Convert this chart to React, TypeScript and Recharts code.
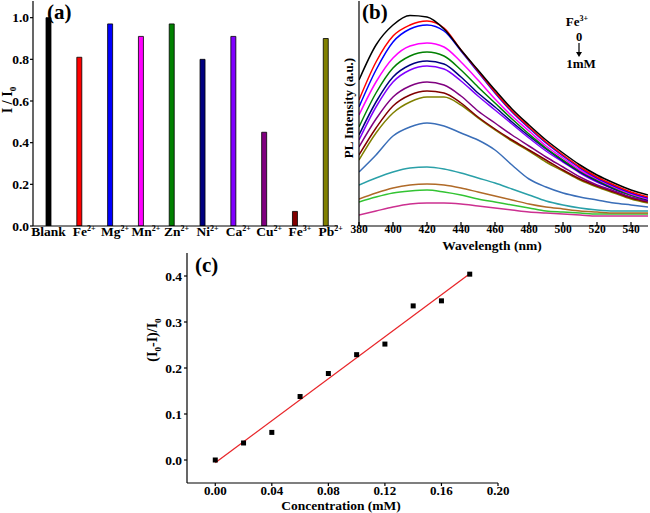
import React from "react";
import { BarChart, Bar, Cell, XAxis, YAxis, LineChart, Line, ComposedChart, Scatter } from "recharts";

const SERIF = "Liberation Serif";

// (a) quenching ratio per ion
const ionLabels = ["Blank", "Fe2+", "Mg2+", "Mn2+", "Zn2+", "Ni2+", "Ca2+", "Cu2+", "Fe3+", "Pb2+"];
const ratios = [1.0, 0.81, 0.97, 0.91, 0.97, 0.8, 0.91, 0.45, 0.07, 0.9];
const barColors = ["#000000", "#ff0000", "#0000ff", "#ff00ff", "#008000", "#000080", "#8000ff", "#800080", "#800000", "#808000"];
const ratioTicks = [0, 0.2, 0.4, 0.6, 0.8, 1.0];

// (b) PL spectra, Fe3+ from 0 to 1 mM (a.u.)
const wavelengths = [380, 390, 400, 410, 420, 430, 440, 450, 460, 470, 480, 490, 500, 510, 520, 530, 540, 550];
const wlTicks = [380, 400, 420, 440, 460, 480, 500, 520, 540];
const spectra = [
  [143, 178, 198, 207.5, 206, 194, 173, 153, 133, 114, 98, 83, 70, 58, 48, 40, 33, 28],
  [123, 161, 187, 198, 202, 195, 173, 152, 131, 112, 96, 81, 68, 56, 46, 38, 31, 26],
  [116, 153, 181, 194, 198, 192, 172, 151, 130, 111, 95, 80, 67, 55, 45, 37, 30, 25],
  [108, 141, 165, 177, 180, 176, 161, 143, 124, 107, 92, 77, 65, 53, 44, 36, 29, 24],
  [96, 130, 155, 167, 171, 167, 153, 136, 120, 104, 89, 75, 63, 52, 43, 35, 28, 24],
  [88, 121, 146, 158, 162, 159, 146, 130, 116, 101, 87, 74, 62, 51, 42, 34, 28, 23],
  [83, 116, 141, 153, 157, 154, 142, 127, 113, 99, 85, 72, 61, 50, 41, 34, 28, 23],
  [76, 104, 126, 137, 141, 138, 127, 112, 100, 88, 77, 66, 56, 46, 38, 32, 26, 22],
  [68, 95, 117, 128, 132, 130, 120, 106, 94, 83, 73, 63, 53, 44, 37, 31, 25, 21],
  [63, 90, 110, 121, 126, 126, 118, 105, 93, 82, 72, 61, 52, 43, 36, 30, 24, 20],
  [51, 68, 87, 96, 100, 97, 90, 83, 73, 58, 44, 36, 30, 26, 23, 20, 18, 16],
  [38, 45, 51, 55, 56, 54, 50, 45, 40, 34, 28, 22, 18, 15, 13, 12, 12, 12],
  [24, 30, 35, 38, 39, 38, 35, 31, 27, 23, 19, 16, 14, 12, 11, 10, 10, 10],
  [21, 26, 30, 32, 33, 31, 28, 24, 21, 18, 15, 12, 11, 10, 9, 9, 9, 9],
  [8, 12, 16, 19, 20, 20, 19, 17, 15, 13, 11, 10, 9, 8, 7, 7, 7, 7],
];
const spectraColors = ["#000000", "#ff0000", "#0000ff", "#ff00ff", "#008000", "#000080", "#8000ff", "#800080", "#800000", "#808000", "#3a6eb8", "#2aa0a8", "#b06a28", "#33c433", "#cc3090"];

// (c) Stern-Volmer style plot
const concentrations = [0, 0.02, 0.04, 0.06, 0.08, 0.1, 0.12, 0.14, 0.16, 0.18];
const quench = [0, 0.037, 0.06, 0.138, 0.188, 0.229, 0.252, 0.335, 0.346, 0.404];
const fitX = [0, 0.18];
const fitY = [-0.006, 0.405];
const concTicks = [0, 0.04, 0.08, 0.12, 0.16, 0.2];
const quenchTicks = [0, 0.1, 0.2, 0.3, 0.4];

const barData = ionLabels.map((ion, i) => ({ i, ion, ratio: ratios[i] }));
const specData = wavelengths.map((w, j) => {
  const row: any = { w };
  spectra.forEach((s, k) => (row["s" + k] = s[j]));
  return row;
});
const pts = concentrations.map((x, i) => ({ x, y: quench[i] }));
const fit = fitX.map((x, i) => ({ x, y: fitY[i] }));

const tickStyle = (size: number) => ({ fontSize: size, fontFamily: SERIF, fontWeight: "bold", fill: "#000" });
const frame = { stroke: "#8a8a8a", strokeWidth: 1 };
const axis = { stroke: "#000", strokeWidth: 1.2 };

function IonTick(props: any) {
  const { x, y, payload } = props;
  const label = ionLabels[payload.value] ?? "";
  const m = label.match(/^([A-Za-z]+)(\d\+)?$/) || [label, label, ""];
  return (
    <text x={x + (m[2] ? 5 : 0)} y={y + 10} textAnchor="middle" fontFamily={SERIF} fontWeight="bold" fontSize={13.5} fill="#000">
      <tspan>{m[1]}</tspan>
      {m[2] ? <tspan dy={-5} fontSize={8}>{m[2]}</tspan> : null}
    </text>
  );
}

function Square(p: any) {
  return <rect x={p.cx - 2.5} y={p.cy - 2.5} width={5} height={5} fill="#000" />;
}

export default function App() {
  return (
    <div style={{ position: "absolute", left: 0, top: 0, width: 650, height: 513, background: "#fff", overflow: "hidden", fontFamily: SERIF }}>
      <div style={{ position: "absolute", left: 0, top: 0 }}>
        <BarChart width={346} height={250} data={barData} margin={{ top: 1, right: 8, bottom: 0, left: 0 }}>
          <XAxis dataKey="i" type="number" domain={[-0.5, 9.4]} ticks={[0, 1, 2, 3, 4, 5, 6, 7, 8, 9]} height={24}
            tick={<IonTick />} tickLine={false} tickSize={0} tickMargin={0} axisLine={axis} interval={0} />
          <XAxis xAxisId="top" dataKey="i" type="number" domain={[-0.5, 9.4]} orientation="top" height={0} tick={false} tickLine={false} axisLine={frame} />
          <YAxis domain={[0, 1.08]} ticks={ratioTicks} width={33} tickFormatter={(v: number) => v.toFixed(1)}
            tick={tickStyle(13.5)} tickSize={3} tickMargin={1} tickLine={axis} axisLine={axis} allowDataOverflow />
          <YAxis yAxisId="r" orientation="right" domain={[0, 1]} width={0} tick={false} tickLine={false} axisLine={frame} />
          <Bar dataKey="ratio" barSize={5} stroke="#000" strokeWidth={0.8} isAnimationActive={false}>
            {barData.map((d, i) => (
              <Cell key={i} fill={barColors[i]} />
            ))}
          </Bar>
        </BarChart>
      </div>

      <div style={{ position: "absolute", left: 330, top: 0 }}>
        <LineChart width={320} height={250} data={specData} margin={{ top: 1, right: 2, bottom: 0, left: 0 }}>
          <XAxis dataKey="w" type="number" domain={[380, 550]} ticks={wlTicks} height={24} tick={tickStyle(11.5)}
            tickSize={-4} tickMargin={3} tickLine={axis} axisLine={axis} allowDataOverflow />
          <XAxis xAxisId="top" dataKey="w" type="number" domain={[380, 550]} orientation="top" height={0} tick={false} tickLine={false} axisLine={frame} />
          <YAxis domain={[-3, 222]} width={29} tick={false} tickLine={false} axisLine={axis} allowDataOverflow />
          <YAxis yAxisId="r" orientation="right" domain={[0, 1]} width={0} tick={false} tickLine={false} axisLine={frame} />
          {spectra.map((_, k) => spectra.length - 1 - k).map((k) => (
            <Line key={k} type="monotone" dataKey={"s" + k} stroke={spectraColors[k]} strokeWidth={1.5} dot={false} isAnimationActive={false} />
          ))}
        </LineChart>
      </div>

      <div style={{ position: "absolute", left: 130, top: 250 }}>
        <ComposedChart width={380} height={263} margin={{ top: 3, right: 12, bottom: 0, left: 0 }}>
          <XAxis dataKey="x" type="number" domain={[-0.02, 0.2]} ticks={concTicks} height={30} tickFormatter={(v: number) => v.toFixed(2)}
            tick={tickStyle(13)} tickSize={3} tickMargin={0} tickLine={axis} axisLine={axis} allowDataOverflow />
          <XAxis xAxisId="top" dataKey="x" type="number" domain={[-0.02, 0.2]} orientation="top" height={0} tick={false} tickLine={false} axisLine={frame} />
          <YAxis dataKey="y" type="number" domain={[-0.05, 0.45]} ticks={quenchTicks} width={57} tickFormatter={(v: number) => v.toFixed(1)}
            tick={tickStyle(13.5)} tickSize={3} tickMargin={2} tickLine={axis} axisLine={axis} allowDataOverflow />
          <YAxis yAxisId="r" orientation="right" domain={[0, 1]} width={0} tick={false} tickLine={false} axisLine={frame} />
          <Line data={fit} dataKey="y" type="linear" stroke="#e8262a" strokeWidth={1.3} dot={false} isAnimationActive={false} />
          <Scatter data={pts} dataKey="y" shape={<Square />} isAnimationActive={false} />
        </ComposedChart>
      </div>

      <svg width={650} height={513} style={{ position: "absolute", left: 0, top: 0, pointerEvents: "none" }}
        fontFamily={SERIF} fontWeight="bold" fill="#000">
        <text x={47} y={19} fontSize={21}>(a)</text>
        <text transform="translate(12,100) rotate(-90)" textAnchor="middle" fontSize={14}>
          I / I<tspan dy={4} fontSize={9}>0</tspan>
        </text>

        <text x={362} y={19} fontSize={21}>(b)</text>
        <text transform="translate(353,108) rotate(-90)" textAnchor="middle" fontSize={13}>PL Intensity (a.u.)</text>
        <text x={492} y={250} textAnchor="middle" fontSize={13.5}>Wavelength (nm)</text>
        <text x={577} y={26} textAnchor="middle" fontSize={13}>
          Fe<tspan dy={-5} fontSize={8}>3+</tspan>
        </text>
        <text x={579} y={41} textAnchor="middle" fontSize={12.5}>0</text>
        <line x1={579} y1={43} x2={579} y2={53} stroke="#000" strokeWidth={1.2} />
        <path d="M576,52 L582,52 L579,57 Z" fill="#000" />
        <text x={581} y={68} textAnchor="middle" fontSize={13}>1mM</text>

        <text x={195} y={272} fontSize={21}>(c)</text>
        <text transform="translate(157,340) rotate(-90)" textAnchor="middle" fontSize={14}>
          (I<tspan dy={4} fontSize={9}>0</tspan><tspan dy={-4}>-I)/I</tspan><tspan dy={4} fontSize={9}>0</tspan>
        </text>
        <text x={341} y={509.5} textAnchor="middle" fontSize={13.5}>Concentration (mM)</text>
      </svg>
    </div>
  );
}
